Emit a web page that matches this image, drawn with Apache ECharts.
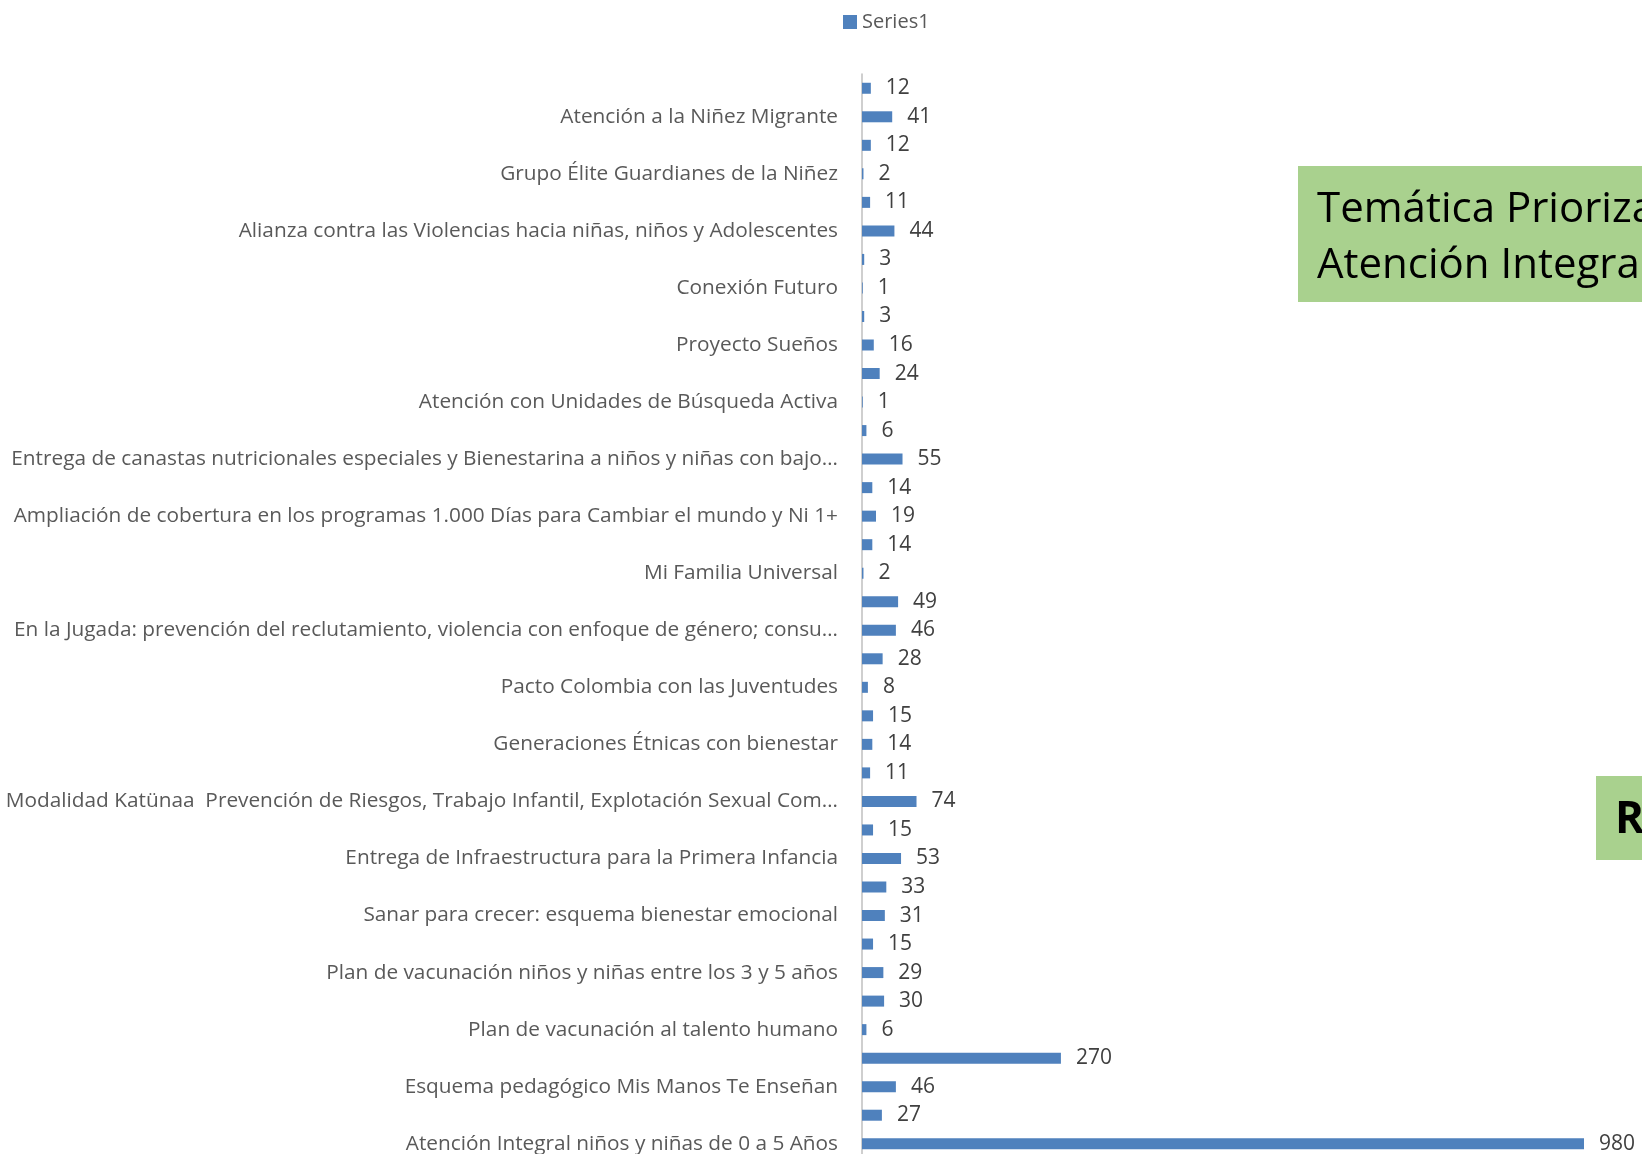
<!DOCTYPE html>
<html>
<head>
<meta charset="utf-8">
<script src="https://cdn.jsdelivr.net/npm/echarts@6/dist/echarts.min.js"></script>
<style>
  html, body { margin: 0; padding: 0; background: #fff; overflow: hidden; }
  #main { width: 1642px; height: 1170px; }
</style>
</head>
<body>
<div id="main"></div>
<script>
// categories listed top to bottom, as they read in the chart; blank = label hidden
var categories = [
  '', 'Atención a la Niñez Migrante',
  '', 'Grupo Élite Guardianes de la Niñez',
  '', 'Alianza contra las Violencias hacia niñas, niños y Adolescentes',
  '', 'Conexión Futuro',
  '', 'Proyecto Sueños',
  '', 'Atención con Unidades de Búsqueda Activa',
  '', 'Entrega de canastas nutricionales especiales y Bienestarina a niños y niñas con bajo peso',
  '', 'Ampliación de cobertura en los programas 1.000 Días para Cambiar el mundo y Ni 1+',
  '', 'Mi Familia Universal',
  '', 'En la Jugada: prevención del reclutamiento, violencia con enfoque de género; consumo de SPA',
  '', 'Pacto Colombia con las Juventudes',
  '', 'Generaciones Étnicas con bienestar',
  '', 'Modalidad Katünaa  Prevención de Riesgos, Trabajo Infantil, Explotación Sexual Comercial',
  '', 'Entrega de Infraestructura para la Primera Infancia',
  '', 'Sanar para crecer: esquema bienestar emocional',
  '', 'Plan de vacunación niños y niñas entre los 3 y 5 años',
  '', 'Plan de vacunación al talento humano',
  '', 'Esquema pedagógico Mis Manos Te Enseñan',
  '', 'Atención Integral niños y niñas de 0 a 5 Años'
];
var series1 = [
  12, 41, 12, 2, 11, 44, 3, 1, 3, 16,
  24, 1, 6, 55, 14, 19, 14, 2, 49, 46,
  28, 8, 15, 14, 11, 74, 15, 53, 33, 31,
  15, 29, 30, 6, 270, 46, 27, 980
];

var font = 'Open Sans';
// the chart div runs a little past the window so the last row is cut like the original
var chart = echarts.init(document.getElementById('main'));

var option = {
  animation: false,
  textStyle: { fontFamily: font },
  legend: {
    data: ['Series1'],
    left: 838,
    top: 7,
    icon: 'rect',
    itemWidth: 14,
    itemHeight: 14,
    itemGap: 6,
    textStyle: { fontFamily: font, fontSize: 20, color: '#595959' }
  },
  grid: { left: 862, right: 58, top: 74, bottom: 12 },
  xAxis: {
    type: 'value',
    min: 0,
    max: 980,
    show: false
  },
  yAxis: {
    type: 'category',
    inverse: true,
    data: categories,
    axisLine: { lineStyle: { color: '#bfbfbf', width: 1.5 } },
    axisTick: { show: false },
    axisLabel: {
      interval: 0,
      margin: 24,
      width: 840,
      overflow: 'truncate',
      ellipsis: '…',
      fontFamily: font,
      fontSize: 20.8,
      color: '#595959'
    }
  },
  series: [{
    name: 'Series1',
    type: 'bar',
    data: series1,
    barWidth: 11,
    itemStyle: { color: '#4f81bd' },
    label: {
      show: true,
      position: 'right',
      distance: 15,
      fontFamily: font,
      fontSize: 21,
      color: '#404040'
    }
  }],
  graphic: [
    {
      type: 'rect',
      shape: { x: 1298, y: 166, width: 400, height: 136 },
      style: { fill: '#a9d18e' }
    },
    {
      type: 'text',
      x: 1317, y: 210,
      style: { text: 'Temática Priorizada', font: '42px "Open Sans"', fill: '#000', verticalAlign: 'middle' }
    },
    {
      type: 'text',
      x: 1317, y: 266,
      style: { text: 'Atención Integral', font: '42px "Open Sans"', fill: '#000', verticalAlign: 'middle' }
    },
    {
      type: 'rect',
      shape: { x: 1596, y: 776, width: 100, height: 84 },
      style: { fill: '#a9d18e' }
    },
    {
      type: 'text',
      x: 1615, y: 820,
      style: { text: 'R', font: 'bold 44px "Open Sans"', fill: '#000', verticalAlign: 'middle' }
    }
  ]
};

chart.setOption(option);
</script>
</body>
</html>
